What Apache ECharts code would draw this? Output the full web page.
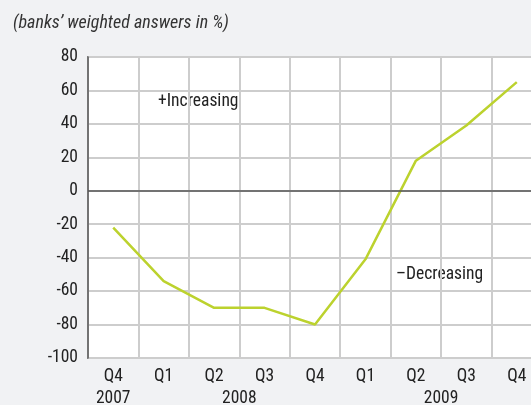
<!DOCTYPE html>
<html><head><meta charset="utf-8">
<script src="https://cdn.jsdelivr.net/npm/echarts@6/dist/echarts.min.js"></script>
<style>html,body{margin:0;padding:0;background:#f1f2f4;}#c{width:531px;height:405px;}</style>
</head><body><div id="c"></div>
<script>
var quarters = ['Q4','Q1','Q2','Q3','Q4','Q1','Q2','Q3','Q4'];
var values = [-22, -54, -70, -70, -80, -41, 18, 39, 65];
var years = ['2007','2008','2009'];
var yearPositions = [0.5, 3, 7];
var title = "(banks\u2019 weighted answers in %)";
var font = '"Roboto Condensed", "Liberation Sans", sans-serif';

var chart = echarts.init(document.getElementById('c'));
chart.setOption({
  backgroundColor: '#f1f2f4',
  animation: false,
  textStyle: {fontFamily: font},
  grid: {left: 88, top: 57, width: 454, height: 301, show: true, backgroundColor: '#ffffff', borderColor: '#555', borderWidth: 1.5, containLabel: false, outerBoundsMode: 'none'},
  title: {text: title, left: 8, top: 9, textStyle: {fontFamily: font, fontStyle: 'italic', fontWeight: 'normal', fontSize: 18, color: '#333'}},
  graphic: [
    {type: 'text', left: 158, top: 93, style: {text: '+Increasing', font: '17.5px ' + font, fill: '#222'}},
    {type: 'text', left: 396, top: 266, style: {text: '\u2013Decreasing', font: '17.5px ' + font, fill: '#222'}}
  ],
  xAxis: [{
    type: 'category', data: quarters, boundaryGap: true, position: 'bottom',
    axisLine: {show: false}, axisTick: {show: false},
    axisLabel: {color: '#222', fontSize: 17.5, margin: 10, interval: 0, fontFamily: font},
    splitLine: {show: true, interval: 0, lineStyle: {color: '#cdcdcd', width: 2}}
  }, {
    type: 'value', min: 0, max: 9, position: 'bottom', offset: 22,
    axisLine: {show: false}, axisTick: {show: false}, splitLine: {show: false},
    axisLabel: {color: '#222', fontSize: 17.5, margin: 10, fontFamily: font, customValues: yearPositions,
      formatter: function (v) { var i = yearPositions.indexOf(v); return i >= 0 ? years[i] : ''; }}
  }],
  yAxis: {
    type: 'value', min: -100, max: 80, interval: 20,
    axisLine: {show: true, onZero: false, lineStyle: {color: '#555', width: 1.5}},
    axisTick: {show: false},
    axisLabel: {color: '#222', fontSize: 17.5, margin: 10, fontFamily: font},
    splitLine: {show: true, lineStyle: {color: '#cdcdcd', width: 2}}
  },
  series: [{
    type: 'line', data: values, xAxisIndex: 0, symbol: 'none',
    lineStyle: {color: '#bcd22e', width: 2.5},
    markLine: {silent: true, symbol: 'none', label: {show: false},
      lineStyle: {color: '#555', width: 1.5, type: 'solid'}, data: [{yAxis: 0}]}
  }]
});
</script></body></html>
